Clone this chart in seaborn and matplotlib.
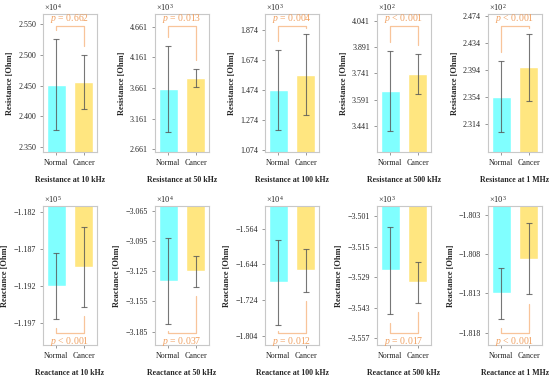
import matplotlib
matplotlib.use("Agg")
import matplotlib.pyplot as plt
import seaborn as sns
import pandas as pd
import numpy as np

sns.set_style("white")
plt.rcParams['font.family'] = ['Liberation Serif', 'DejaVu Serif']
plt.rcParams['mathtext.fontset'] = 'custom'
plt.rcParams['mathtext.rm'] = 'Liberation Serif'
plt.rcParams['mathtext.it'] = 'Liberation Serif:italic'

groups = ["Normal", "Cancer"]

titles = ["Resistance at 10 kHz", "Resistance at 50 kHz", "Resistance at 100 kHz",
          "Resistance at 500 kHz", "Resistance at 1 MHz",
          "Reactance at 10 kHz", "Reactance at 50 kHz", "Reactance at 100 kHz",
          "Reactance at 500 kHz", "Reactance at 1 MHz"]
ylabels = ["Resistance [Ohm]"] * 5 + ["Reactance [Ohm]"] * 5
exponents = [4, 3, 3, 2, 2, 5, 4, 4, 3, 3]

normal_mean = [2.452, 3.650, 1.474, 3.641, 2.3545,
               -1.1920, -3.1344, -1.684, -3.5258, -1.8130]
normal_sd = [0.074, 0.700, 0.266, 0.226, 0.053,
             0.0045, 0.0430, 0.0955, 0.0198, 0.0033]
cancer_mean = [2.4565, 3.830, 1.576, 3.737, 2.3979,
               -1.18941, -3.1250, -1.6569, -3.5312, -1.80856]
cancer_sd = [0.044, 0.145, 0.270, 0.115, 0.050,
             0.0054, 0.0155, 0.0480, 0.0095, 0.00457]
p_texts = ["$p$ = 0.662", "$p$ = 0.013", "$p$ = 0.004", "$p$ < 0.001", "$p$ < 0.001",
           "$p$ < 0.001", "$p$ = 0.037", "$p$ = 0.012", "$p$ = 0.017", "$p$ < 0.001"]

yticks = [[2.350, 2.400, 2.450, 2.500, 2.550],
          [2.661, 3.161, 3.661, 4.161, 4.661],
          [1.074, 1.274, 1.474, 1.674, 1.874],
          [3.441, 3.591, 3.741, 3.891, 4.041],
          [2.314, 2.354, 2.394, 2.434, 2.474],
          [-1.197, -1.192, -1.187, -1.182],
          [-3.185, -3.155, -3.125, -3.095, -3.065],
          [-1.804, -1.724, -1.644, -1.564],
          [-3.557, -3.543, -3.529, -3.515, -3.501],
          [-1.818, -1.813, -1.808, -1.803]]
ylims = [(2.342, 2.567), (2.617, 4.868), (1.060, 1.979), (3.295, 4.078), (2.2725, 2.477),
         (-1.2000, -1.1812), (-3.1984, -3.0600), (-1.825, -1.5125), (-3.5600, -3.4962),
         (-1.8196, -1.8018)]

bar_colors = ["#80FFFF", "#FFE680"]
err_color = "#555555"
spine_color = "#C8C8C8"
p_color = "#F0A060"
br_color = "#F8C49A"

fig = plt.figure(figsize=(5.5, 3.78), dpi=100)
W, H = 550.0, 378.0
lefts = [43, 155, 265, 377, 488]
rows = [(14, 152), (206, 345)]

for i in range(10):
    r, c = divmod(i, 5)
    top, bot = rows[r]
    ax = fig.add_axes([lefts[c] / W, 1 - bot / H, 54 / W, (bot - top) / H])
    df = pd.DataFrame({"group": groups, "value": [normal_mean[i], cancer_mean[i]]})
    sns.barplot(data=df, x="group", y="value", hue="group", palette=bar_colors,
                width=0.7, errorbar=None, legend=False, ax=ax, saturation=1)
    means = np.array([normal_mean[i], cancer_mean[i]])
    sds = np.array([normal_sd[i], cancer_sd[i]])
    ax.errorbar([0, 1], means, yerr=sds, fmt='none', ecolor=err_color, elinewidth=0.8,
                capsize=2.5, capthick=0.8, alpha=0.8)
    lo, hi = ylims[i]
    rng = hi - lo
    ax.set_ylim(lo, hi)
    ax.set_xlim(-0.48, 1.48)
    ax.set_yticks(yticks[i])
    ax.set_yticklabels([f"{v:.3f}".replace("-", "\u2212") for v in yticks[i]])
    # significance bracket
    if r == 0:
        by = hi - 0.09 * rng
        ends = [min(m + s + 0.065 * rng, by - 0.015 * rng) for m, s in zip(means, sds)]
        ax.plot([0, 0, 1, 1], [ends[0], by, by, ends[1]], color=br_color, lw=0.9)
        ax.text(0.5, by + 0.012 * rng, p_texts[i], ha='center', va='bottom',
                color=p_color, fontsize=7)
    else:
        by = lo + 0.085 * rng
        ends = [max(m - s - 0.065 * rng, by + 0.015 * rng) for m, s in zip(means, sds)]
        ax.plot([0, 0, 1, 1], [ends[0], by, by, ends[1]], color=br_color, lw=0.9)
        ax.text(0.5, by - 0.012 * rng, p_texts[i], ha='center', va='top',
                color=p_color, fontsize=7)
    ax.text(0.02, 1.005, r"$\times$10$^{%d}$" % exponents[i], transform=ax.transAxes,
            ha='left', va='bottom', fontsize=6)
    for s in ax.spines.values():
        s.set_visible(True)
        s.set_color(spine_color)
        s.set_linewidth(0.8)
    ax.tick_params(axis='both', which='both', direction='out', length=2.5, width=0.6,
                   color="#888888", labelsize=5.8, pad=2.5)
    ax.tick_params(left=True, bottom=True)
    ax.set_xlabel(titles[i], fontsize=5.7, fontweight='bold', labelpad=6.5)
    ax.set_ylabel(ylabels[i], fontsize=6, fontweight='bold', labelpad=3)

fig.savefig("out.png", dpi=100)
